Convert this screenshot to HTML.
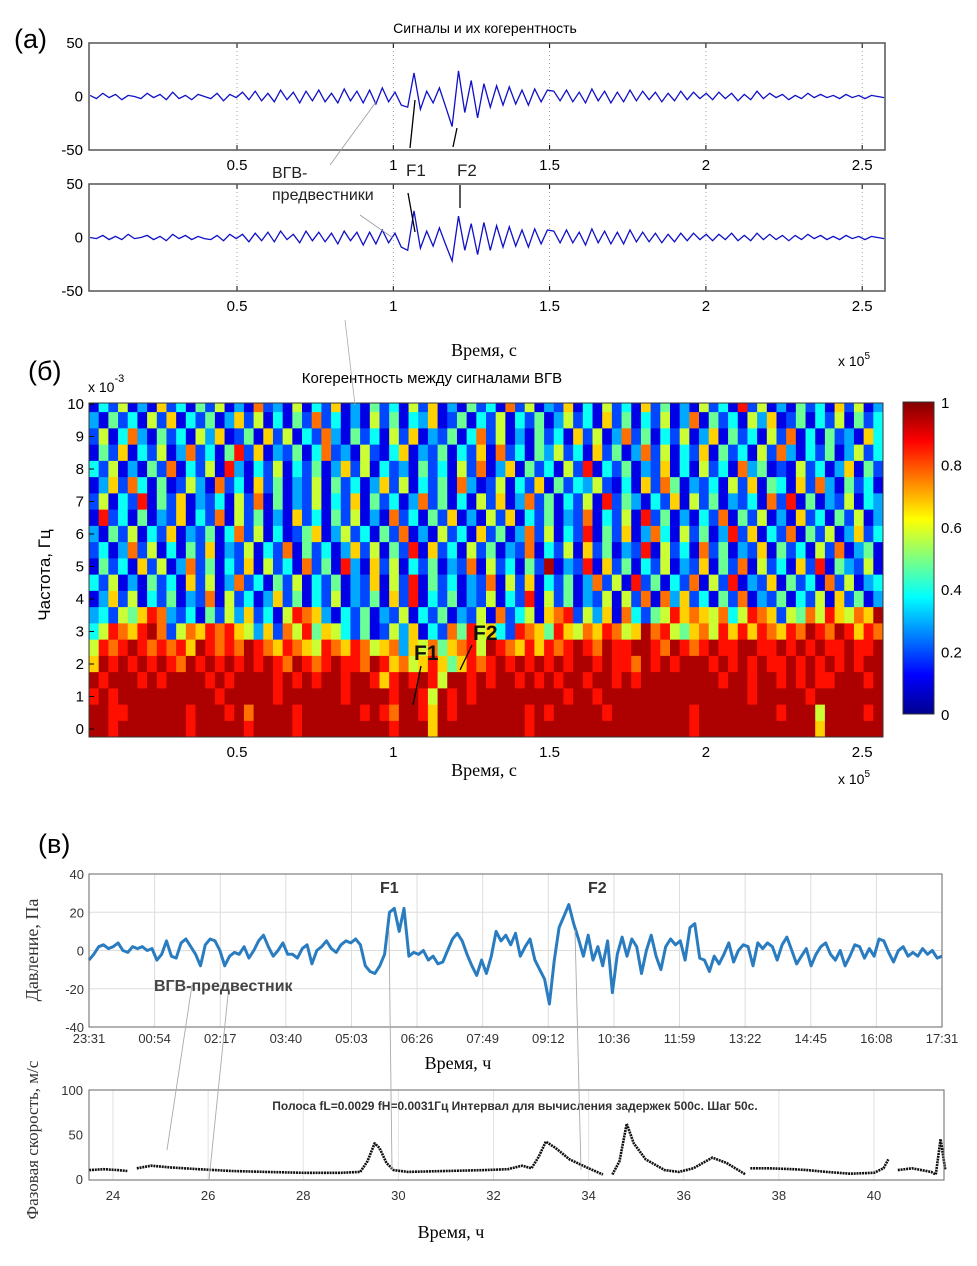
<!DOCTYPE html>
<html><head><meta charset="utf-8"><style>
html,body{margin:0;padding:0;background:#fff;}
svg{display:block;font-family:"Liberation Sans",sans-serif;}
.serif{font-family:"Liberation Serif","DejaVu Serif",serif;}
</style></head><body>
<svg id="fig" width="977" height="1266" viewBox="0 0 977 1266" xmlns="http://www.w3.org/2000/svg">
<defs>
<linearGradient id="jet" x1="0" y1="1" x2="0" y2="0">
<stop offset="0" stop-color="#00008f"/><stop offset="0.125" stop-color="#0000ff"/><stop offset="0.375" stop-color="#00ffff"/><stop offset="0.625" stop-color="#ffff00"/><stop offset="0.875" stop-color="#ff0000"/><stop offset="1" stop-color="#800000"/>
</linearGradient>
</defs>
<g id="texts">
<text x="14" y="48" font-size="27">(a)</text>
<text x="485" y="33" font-size="14" text-anchor="middle">Сигналы и их когерентность</text>
<text x="484" y="356" font-size="18" text-anchor="middle" class="serif">Время, с</text>
<text x="838" y="366" font-size="14">x 10<tspan dy="-7" font-size="10">5</tspan></text>
<text x="28" y="380" font-size="27">(б)</text>
<text x="88" y="392" font-size="14">x  10<tspan dy="-10" font-size="11">-3</tspan></text>
<text x="432" y="383" font-size="15" text-anchor="middle">Когерентность между сигналами ВГВ</text>
<text x="484" y="776" font-size="18" text-anchor="middle" class="serif">Время, с</text>
<text x="838" y="784" font-size="14">x 10<tspan dy="-7" font-size="10">5</tspan></text>
<text x="50" y="575" font-size="17" text-anchor="middle" transform="rotate(-90 50 575)">Частота, Гц</text>
<text x="38" y="853" font-size="27">(в)</text>
<text x="38" y="950" font-size="18" text-anchor="middle" class="serif" fill="#333" transform="rotate(-90 38 950)">Давление, Па</text>
<text x="38" y="1140" font-size="17" text-anchor="middle" class="serif" fill="#333" transform="rotate(-90 38 1140)">Фазовая скорость, м/с</text>
<text x="458" y="1069" font-size="18" text-anchor="middle" class="serif">Время, ч</text>
<text x="451" y="1238" font-size="18" text-anchor="middle" class="serif">Время, ч</text>
</g>
<g id="plots"></g>
<g id="annot"></g>
</svg>
<script>
// ---------- data ----------
const sigX0 = 0.03, sigX1 = 2.57;
const signal1 = [1,-2,3,-1,2,-3,1,0,-2,3,-1,2,-3,4,-2,1,-3,2,0,-2,3,-4,2,-1,
 4,-3,5,-4,3,-5,6,-3,4,-6,5,-4,6,-5,3,-6,7,-4,5,-6,
 6,-7,8,-5,4,-8,-10,22,-12,5,-6,8,-10,-28,24,-15,15,-20,
 12,-10,10,-8,9,-7,6,-8,7,-5,6,
 5,-4,6,-5,4,-6,7,-4,5,-6,4,-5,6,-4,5,-3,4,-5,3,-4,5,-3,4,-2,3,
 -3,4,-2,3,-4,2,-3,5,-2,3,-1,2,-3,1,-2,3,-1,2,-1,1,-2,2,-1,1,-2,1,0,-1];
const signal2 = [0,-1,2,-2,1,-2,3,-1,0,2,-2,1,-3,3,-1,2,-2,1,-1,-2,2,-3,3,-1,
 3,-4,4,-3,5,-4,6,-2,3,-5,6,-3,5,-4,4,-6,6,-3,5,-7,
 5,-6,7,-5,4,-9,-12,25,-10,6,-8,9,-7,-22,20,-12,13,-16,
 14,-12,11,-9,10,-8,7,-9,8,-6,7,
 6,-5,7,-5,5,-7,8,-5,6,-6,5,-6,7,-4,5,-4,4,-5,3,-4,4,-3,4,-2,3,
 -3,3,-2,4,-3,2,-3,4,-2,3,-2,2,-3,2,-2,3,-1,2,-2,1,-2,2,-1,1,-2,1,0,-1];
const sigXTicks = [0.5,1,1.5,2,2.5];
const sigXTickLabels = ["0.5","1","1.5","2","2.5"];
const sigYTicks = [50,0,-50];

const cohFreqs = [10,9.5,9,8.5,8,7.5,7,6.5,6,5.5,5,4.5,4,3.5,3,2.5,2,1.5,1,0.5,0];
const cohRows = [
"0315020613041502071205031602041305160204130715021603051306140205130815020413061502",
"2041305160314026150304171302051403260140315031402513061403150270413052601403150413",
"1503720413052601406150317204130516021403715020413061502714031502604130517030412063",
"0416031502713048160214037120510360214031607130425130614027150316041305172031402513",
"3150204170315082031503140261503120413051702604130518031402160305130724010513026041",
"0261730401520713061402150413026150314072015031604132510306174021305160430617204130",
"1503180416021305170402150316041302714030516027140315081420316051402130718040215032",
"0813040216031705140206130415020713041602051603140217031508140203170415020613041502",
"2041503160214037150301460251304170205130614027150318041602730514028160317041502613",
"1302715030416021503170413026150418061305140217031506140218051307140216041305170240",
"0413061502714031605130714082061503140217051304190218061403150216041705130618042150",
"3150204130615027130415031402160518041302170516031402715081403170518021604130715023",
"0261503140217051302614031502140618031402150318051402150517072613041702140315061402",
"2315468721304152613058762031402150314021507135067815260731458676573587615475865769",
"3587689715768786526175846531401526031748563187648657687569785467586868768798798687",
"5878987878698787987687658768756726574678598768687898798899879878988998898989889889",
"6989898987989898989879878988798675686468789898989899898879898999898989889898989899",
"9899989899998989999898989989986898985998989989898998998989999999989989989898899989",
"8989999999999899999899999989999899859898999999999899899999999999999989999989999999",
"9988999999899989799998999999898799869899999998989999989999999989999999989995999989",
"9989999999899999899998999999999899969999999998999999999999999989999999999996999999"];
const cohYTicks = [0,1,2,3,4,5,6,7,8,9,10];
const cbTicks = [0,0.2,0.4,0.6,0.8,1];

const presT0 = 0, presT1 = 18;
const pressure = [-5,-2,2,3,1,2,4,0,-1,2,1,2,0,1,
 -5,-2,5,-3,-4,4,6,2,-2,-8,3,6,5,0,
 -8,-3,-1,-2,2,-4,0,5,8,2,-3,0,4,-2,
 -2,-4,1,3,-7,0,2,5,1,-1,3,5,4,6,
 3,-8,-11,-12,-8,-2,20,22,10,22,-3,-1,-2,0,
 -5,-3,-7,-6,0,6,9,5,-2,-8,-13,-5,
 -12,-3,10,5,8,3,9,-3,2,6,-5,-10,-15,-28,
 -5,12,18,24,14,6,-3,8,-5,2,-8,5,-22,-2,
 7,-3,6,2,-12,0,8,-3,-10,2,6,3,5,-5,
 12,14,-4,-5,-11,-3,-7,-2,4,-6,0,3,2,-8,
 4,1,4,2,-5,3,7,0,-7,-3,1,-8,-2,2,
 4,-2,-5,0,-8,-3,3,2,-4,1,-3,6,5,-1,
 -6,0,2,-3,-1,-3,1,-2,0,-4,-3];
const presTickLabels = ["23:31","00:54","02:17","03:40","05:03","06:26","07:49","09:12","10:36","11:59","13:22","14:45","16:08","17:31"];
const presYTicks = [40,20,0,-20,-40];

const phaseT = [23.5,23.8,24.1,24.3,null,24.5,24.8,25.2,25.8,26.5,27.2,28,28.8,29.2,29.35,29.5,29.6,29.75,29.9,30.2,31,31.8,32.3,32.6,32.8,32.95,33.1,33.3,33.6,34,34.3,null,34.5,34.65,34.8,34.95,35.2,35.6,35.9,36.2,36.6,36.9,37.3,null,37.4,37.8,38.3,38.6,39,39.5,40,40.2,40.3,null,40.5,40.8,41.2,41.3,41.4,41.5];
const phaseV = [10,11,10,9,null,12,15,13,11,9,8,7,7,8,20,40,35,18,10,8,9,10,11,15,12,25,42,35,22,12,5,null,5,20,62,40,22,10,8,12,24,18,5,null,12,12,11,10,8,6,7,12,22,null,10,12,8,5,45,10];
const phaseXTicks = [24,26,28,30,32,34,36,38,40];
const phaseYTicks = [0,50,100];

// ---------- helpers ----------
const NS = "http://www.w3.org/2000/svg";
const plots = document.getElementById('plots');
function mk(tag, attrs, parent){const e=document.createElementNS(NS,tag);for(const k in attrs)e.setAttribute(k,attrs[k]);(parent||plots).appendChild(e);return e;}
function lin(d0,d1,r0,r1){return v=>r0+(v-d0)*(r1-r0)/(d1-d0);}
function jet(v){v=Math.max(0,Math.min(1,v));
 const r=Math.max(0,Math.min(1,1.5-Math.abs(4*v-3))),g=Math.max(0,Math.min(1,1.5-Math.abs(4*v-2))),b=Math.max(0,Math.min(1,1.5-Math.abs(4*v-1)));
 return `rgb(${Math.round(r*255)},${Math.round(g*255)},${Math.round(b*255)})`;}

// ---------- signal panels ----------
function signalPanel(top, data, nm){
 const L=89,R=885,T=top,B=top+107;
 const x=lin(0,2.6,80.7,80.7+2.6*312.6), y=lin(-50,50,B,T);
 const g=mk('g',{});
 
 
 sigXTicks.forEach((t,i)=>{
  const gl=mk('line',{x1:x(t),x2:x(t),y1:T,y2:B,stroke:'#888','stroke-width':0.8,'stroke-dasharray':'1 3'},g);
  
  
  const tl=mk('text',{x:x(t),y:B+20,'font-size':15,'text-anchor':'middle'},g);tl.textContent=sigXTickLabels[i];
  
  
  mk('line',{x1:x(t),x2:x(t),y1:B,y2:B-5,stroke:'#000'},g);
  mk('line',{x1:x(t),x2:x(t),y1:T,y2:T+5,stroke:'#000'},g);
 });
 sigYTicks.forEach(t=>{
  const tl=mk('text',{x:L-6,y:y(t)+5,'font-size':15,'text-anchor':'end'},g);tl.textContent=t;
  
  
 });
 const n=data.length;
 const pts=data.map((v,i)=>x(sigX0+(sigX1-sigX0)*i/(n-1)).toFixed(1)+','+y(v).toFixed(1)).join(' ');
 const pl=mk('polyline',{points:pts,fill:'none',stroke:'#1010c8','stroke-width':1.3},g);
 
 
 const box=mk('rect',{x:L,y:T,width:R-L,height:B-T,fill:'none',stroke:'#555','stroke-width':1.5},g);
 
 
}
signalPanel(43, signal1, 'signal-1');
signalPanel(184, signal2, 'signal-2');

// ---------- coherence heatmap ----------
(function(){
 const L=89,R=883,T=403,B=737;
 const y=lin(0,10,729,404);
 const g=mk('g',{});
 
 
 const rh=(y(0)-y(0.5));
 cohRows.forEach((row,ri)=>{
  const f=cohFreqs[ri];
  const yc=y(f); let y0=Math.max(T,yc-rh/2), y1=Math.min(B,yc+rh/2);
  const cw=(R-L)/row.length;
  for(let c=0;c<row.length;c++){
   const v=0.1+parseInt(row[c])*0.095;
   const r=mk('rect',{x:(L+c*cw).toFixed(2),y:y0.toFixed(2),width:(cw+0.4).toFixed(2),height:(y1-y0+0.4).toFixed(2),fill:jet(v)},g);
   
   
  }
 });
 const x=lin(0,2.6,80.7,80.7+2.6*312.6);
 sigXTicks.forEach((t,i)=>{
  const tl=mk('text',{x:x(t),y:B+20,'font-size':15,'text-anchor':'middle'},g);tl.textContent=sigXTickLabels[i];
  
  
 });
 cohYTicks.forEach(t=>{
  const tl=mk('text',{x:L-5,y:y(t)+5,'font-size':15,'text-anchor':'end'},g);tl.textContent=t;
  
  
  mk('line',{x1:L,x2:L+5,y1:y(t),y2:y(t),stroke:'#000'},g);
 });
 mk('rect',{x:L,y:T,width:R-L,height:B-T,fill:'none',stroke:'#333','stroke-width':1},g);
 const cb=mk('rect',{x:903,y:402,width:31,height:312,fill:'url(#jet)',stroke:'#333','stroke-width':1},g);
 
 
 const cy=lin(0,1,714,402);
 cbTicks.forEach(t=>{
  const tl=mk('text',{x:941,y:cy(t)+6,'font-size':15},g);tl.textContent=t;
  
  
 });
})();

// ---------- pressure panel ----------
(function(){
 const L=89,R=942,T=874,B=1027;
 const x=lin(presT0,presT1,L,R), y=lin(-40,40,B,T);
 const g=mk('g',{});
 
 
 presTickLabels.forEach((lab,i)=>{
  const xx=L+(R-L)*i/(presTickLabels.length-1);
  mk('line',{x1:xx,x2:xx,y1:T,y2:B,stroke:'#ddd','stroke-width':1},g);
  const tl=mk('text',{x:xx,y:B+16,'font-size':13,'text-anchor':'middle',fill:'#333'},g);tl.textContent=lab;
  
  
 });
 presYTicks.forEach(t=>{
  mk('line',{x1:L,x2:R,y1:y(t),y2:y(t),stroke:'#ddd','stroke-width':1},g);
  const tl=mk('text',{x:L-5,y:y(t)+5,'font-size':13,'text-anchor':'end',fill:'#333'},g);tl.textContent=t;
  
  
 });
 const n=pressure.length;
 const pts=pressure.map((v,i)=>x(presT0+(presT1-presT0)*i/(n-1)).toFixed(1)+','+y(v).toFixed(1)).join(' ');
 const pl=mk('polyline',{points:pts,fill:'none',stroke:'#2a7cc0','stroke-width':3,'stroke-linejoin':'round'},g);
 
 
 mk('rect',{x:L,y:T,width:R-L,height:B-T,fill:'none',stroke:'#666','stroke-width':1},g);
})();

// ---------- phase speed panel ----------
(function(){
 const L=89,R=944,T=1090,B=1180;
 const x=lin(24,40,113,874), y=lin(0,100,B-1,T);
 const g=mk('g',{});
 
 
 phaseXTicks.forEach(t=>{
  mk('line',{x1:x(t),x2:x(t),y1:T,y2:B,stroke:'#e2e2e2'},g);
  const tl=mk('text',{x:x(t),y:B+20,'font-size':13,'text-anchor':'middle',fill:'#333'},g);tl.textContent=t;
  
  
 });
 phaseYTicks.forEach(t=>{
  const tl=mk('text',{x:L-6,y:y(t)+5,'font-size':13,'text-anchor':'end',fill:'#333'},g);tl.textContent=t;
  
  
 });
 let seg=[];
 const flush=()=>{ if(seg.length>1){const p=mk('polyline',{points:seg.join(' '),fill:'none',stroke:'#111','stroke-width':2.6,'stroke-dasharray':'2 0.8','stroke-linejoin':'round'},g);
   
   } seg=[]; };
 phaseT.forEach((t,i)=>{ if(t===null){flush();return;} seg.push(x(t).toFixed(1)+','+y(phaseV[i]).toFixed(1)); });
 flush();
 const tt=mk('text',{x:515,y:1110,'font-size':12,'font-weight':'bold','text-anchor':'middle',fill:'#333'},g);
 tt.textContent='Полоса fL=0.0029 fH=0.0031Гц Интервал для вычисления задержек 500с. Шаг 50с.';
 
 
 mk('rect',{x:L,y:T,width:R-L,height:B-T,fill:'none',stroke:'#666','stroke-width':1},g);
})();

// ---------- annotations ----------
(function(){
 const a=document.getElementById('annot');
 const lines=[
  [376,102,330,165,'#999',0.8],[345,320,355,405,'#aaa',0.8],[360,215,393,238,'#999',0.8],
  [410,148,415,100,'#000',1.3],[453,147,457,128,'#000',1.3],
  [408,193,415,232,'#000',1.3],[460,185,460,208,'#000',1.3],
  [421,666,413,705,'#000',1.3],[472,645,460,670,'#000',1.3],
  [389,930,392,1170,'#aaa',0.9],[575,930,581,1170,'#aaa',0.9],
  [192,985,167,1150,'#aaa',0.9],[228,995,209,1180,'#aaa',0.9]];
 lines.forEach(l=>{const e=mk('line',{x1:l[0],y1:l[1],x2:l[2],y2:l[3],stroke:l[4],'stroke-width':l[5]},a);
  
  });
 const txt=[[272,178,'ВГВ-',16,'normal','#222'],[272,200,'предвестники',16,'normal','#222'],
  [406,176,'F1',17,'normal','#222'],[457,176,'F2',17,'normal','#222'],
  [414,660,'F1',21,'bold','#111'],[473,640,'F2',21,'bold','#111'],
  [380,893,'F1',16,'bold','#333'],[588,893,'F2',16,'bold','#333'],
  [154,991,'ВГВ-предвестник',16,'bold','#444']];
 txt.forEach(t=>{const e=mk('text',{x:t[0],y:t[1],'font-size':t[3],'font-weight':t[4],fill:t[5]},a);e.textContent=t[2];
  
  });
})();
</script>
</body></html>
